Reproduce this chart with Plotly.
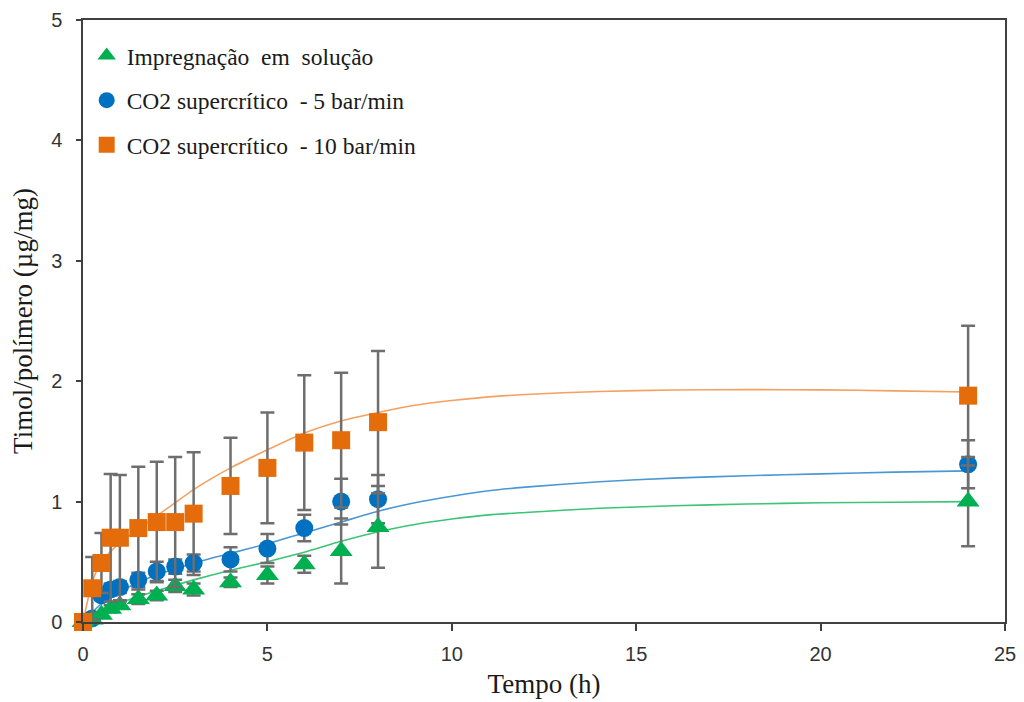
import plotly.graph_objects as go

# ---- data ----
tempo = [0, 0.25, 0.5, 0.75, 1, 1.5, 2, 2.5, 3, 4, 5, 6, 7, 8, 24]

green = [0, 0.02, 0.06, 0.11, 0.14, 0.19, 0.22, 0.30, 0.27, 0.33, 0.39, 0.48, 0.59, 0.79, 1.00]
green_err = [0, 0.01, 0.02, 0.03, 0.03, 0.04, 0.04, 0.05, 0.05, 0.04, 0.07, 0.07, 0.27, 0.34, 0.37]

blue = [0, 0.03, 0.22, 0.27, 0.29, 0.35, 0.42, 0.46, 0.49, 0.52, 0.61, 0.78, 1.00, 1.02, 1.31]
blue_err = [0, 0.02, 0.04, 0.05, 0.05, 0.06, 0.08, 0.06, 0.07, 0.10, 0.12, 0.11, 0.19, 0.20, 0.20]

orange = [0, 0.28, 0.49, 0.70, 0.70, 0.78, 0.83, 0.83, 0.90, 1.13, 1.28, 1.49, 1.51, 1.66, 1.88]
orange_err = [0, 0.26, 0.25, 0.53, 0.52, 0.51, 0.50, 0.54, 0.51, 0.40, 0.46, 0.56, 0.56, 0.59, 0.58]

# fitted curves
curve_t = [0, 0.25, 0.5, 1, 1.5, 2, 3, 4, 5, 6, 7, 8, 9, 10, 11, 12, 14, 16, 18, 20, 22, 24]
curve_green = [0, 0.05, 0.09, 0.16, 0.21, 0.26, 0.35, 0.43, 0.50, 0.58, 0.67, 0.75, 0.81, 0.855,
               0.89, 0.91, 0.945, 0.965, 0.98, 0.99, 0.995, 1.0]
curve_blue = [0, 0.08, 0.15, 0.25, 0.33, 0.39, 0.49, 0.57, 0.65, 0.74, 0.83, 0.92, 0.99, 1.045,
              1.09, 1.12, 1.165, 1.195, 1.215, 1.23, 1.245, 1.255]
curve_orange = [0, 0.33, 0.50, 0.66, 0.77, 0.88, 1.10, 1.28, 1.43, 1.57, 1.67, 1.74, 1.80, 1.84,
                1.87, 1.89, 1.915, 1.927, 1.93, 1.928, 1.92, 1.91]

names = ["Impregnação\u00a0 em\u00a0 solução", "CO2 supercrítico\u00a0 - 5 bar/min",
         "CO2 supercrítico\u00a0 - 10 bar/min"]

C_GREEN, C_BLUE, C_ORANGE = "#00B050", "#0070C0", "#E46C0A"
L_GREEN, L_BLUE, L_ORANGE = "#3CC477", "#4A97D6", "#F4A060"
ERR = "#6E6E6E"

fig = go.Figure()

for cy, col in [(curve_green, L_GREEN), (curve_blue, L_BLUE), (curve_orange, L_ORANGE)]:
    fig.add_trace(go.Scatter(x=curve_t, y=cy, mode="lines",
                             line=dict(color=col, width=1.6, shape="spline", smoothing=0.6),
                             showlegend=False, hoverinfo="skip"))

series = [
    (blue, blue_err, C_BLUE, "circle", 18, names[1], 2),
    (green, green_err, C_GREEN, "triangle-up", 20, names[0], 1),
    (orange, orange_err, C_ORANGE, "square", 18, names[2], 3),
]
for ys, es, col, sym, sz, nm, rank in series:
    fig.add_trace(go.Scatter(
        x=tempo, y=ys, mode="markers", name=nm,
        marker=dict(color=col, symbol=sym, size=sz, line=dict(width=0)),
        error_y=dict(type="data", array=es, visible=True, color=ERR, thickness=2.5, width=7),
        cliponaxis=False, legendrank=rank, legendgroup=nm,
    ))

axis_font = dict(family="Liberation Sans, Arial, sans-serif", size=20, color="#333333")
title_font = dict(family="Liberation Serif, Times New Roman, serif", size=27, color="#1a1a1a")

fig.update_layout(
    width=1024, height=702,
    margin=dict(l=83, r=19, t=20, b=80),
    paper_bgcolor="white", plot_bgcolor="white",
    showlegend=True,
    legend=dict(
        x=0.004, y=0.977, xanchor="left", yanchor="top",
        font=dict(family="Liberation Serif, Times New Roman, serif", size=23.5, color="#1a1a1a"),
        traceorder="grouped", tracegroupgap=11, bgcolor="rgba(0,0,0,0)",
    ),
    xaxis=dict(
        range=[0, 25], tickvals=[0, 5, 10, 15, 20, 25], showgrid=False, zeroline=False,
        showline=True, linecolor="#404040", linewidth=1.5, mirror=True,
        ticks="outside", ticklen=7, tickcolor="#404040", tickwidth=1.5,
        tickfont=axis_font, ticklabelstandoff=6, automargin=False,
        title=dict(text="Tempo (h)", font=title_font, standoff=10),
    ),
    yaxis=dict(
        range=[0, 5], tickvals=[0, 1, 2, 3, 4, 5], showgrid=False, zeroline=False,
        showline=True, linecolor="#404040", linewidth=1.5, mirror=True,
        ticks="outside", ticklen=5, tickcolor="#404040", tickwidth=1.5,
        tickfont=axis_font, ticklabelstandoff=10, automargin=False,
        title=dict(text="Timol/polímero (µg/mg)", font=title_font, standoff=11),
    ),
)

fig.write_html("out.html")
